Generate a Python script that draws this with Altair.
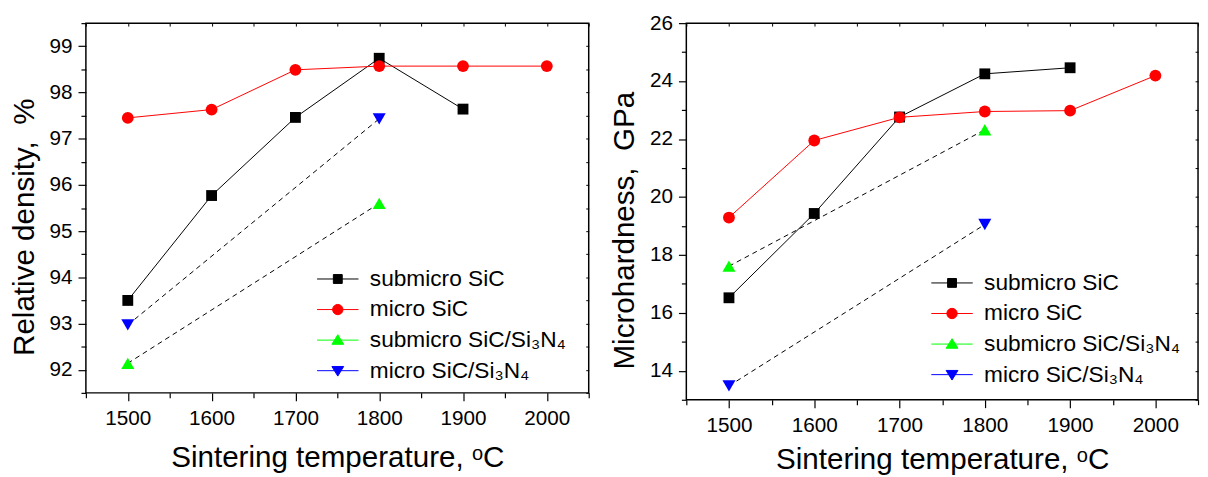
import altair as alt
import pandas as pd

# ---------------- data ----------------
SERIES = ["submicro SiC", "micro SiC", "submicro SiC/Si₃N₄", "micro SiC/Si₃N₄"]

# Left panel: relative density, %
dens_sub_sic_t = [1500, 1600, 1700, 1800, 1900]
dens_sub_sic_v = [93.50, 95.77, 97.46, 98.74, 97.64]
dens_micro_sic_t = [1500, 1600, 1700, 1800, 1900, 2000]
dens_micro_sic_v = [97.45, 97.63, 98.49, 98.57, 98.57, 98.57]
dens_sub_comp_t = [1500, 1800]
dens_sub_comp_v = [92.14, 95.60]
dens_micro_comp_t = [1500, 1800]
dens_micro_comp_v = [92.97, 97.43]

# Right panel: microhardness, GPa
hard_sub_sic_t = [1500, 1600, 1700, 1800, 1900]
hard_sub_sic_v = [16.52, 19.43, 22.76, 24.25, 24.46]
hard_micro_sic_t = [1500, 1600, 1700, 1800, 1900, 2000]
hard_micro_sic_v = [19.29, 21.95, 22.75, 22.95, 22.98, 24.19]
hard_sub_comp_t = [1500, 1800]
hard_sub_comp_v = [17.61, 22.32]
hard_micro_comp_t = [1500, 1800]
hard_micro_comp_v = [13.48, 19.05]

# axis ticks
X_DOMAIN = [1450, 2050]
X_TICKS = [1450, 1500, 1550, 1600, 1650, 1700, 1750, 1800, 1850, 1900, 1950, 2000, 2050]
DENS_DOMAIN = [91.5, 99.5]
DENS_TICKS = [91.5, 92, 92.5, 93, 93.5, 94, 94.5, 95, 95.5, 96, 96.5, 97, 97.5, 98, 98.5, 99, 99.5]
HARD_DOMAIN = [13, 26]
HARD_TICKS = [13, 14, 15, 16, 17, 18, 19, 20, 21, 22, 23, 24, 25, 26]

# ---------------- styles ----------------
MARKER_COLOR = {SERIES[0]: "#000000", SERIES[1]: "#ff0000", SERIES[2]: "#00ff00", SERIES[3]: "#0000ff"}
LINE_COLOR = {SERIES[0]: "#000000", SERIES[1]: "#ff0000", SERIES[2]: "#000000", SERIES[3]: "#000000"}
DASHED = {SERIES[0]: False, SERIES[1]: False, SERIES[2]: True, SERIES[3]: True}
MARKER_SHAPE = {SERIES[0]: "square", SERIES[1]: "circle", SERIES[2]: "triangle-up", SERIES[3]: "triangle-down"}
MARKER_SIZE = {SERIES[0]: 121, SERIES[1]: 144, SERIES[2]: 175, SERIES[3]: 175}
LEGEND_PATHS = [
    "M-4.2,0H4.2M-0.9,-0.9H0.9V0.9H-0.9Z",
    "M-4.2,0H4.2M-1.05,0A1.05,1.05,0,1,0,1.05,0A1.05,1.05,0,1,0,-1.05,0Z",
    "M-4.2,0H4.2M0,-1.1L1.2,0.85H-1.2Z",
    "M-4.2,0H4.2M0,1.1L1.2,-0.85H-1.2Z",
]
FONT = "Liberation Sans"


def build_df(ts_list, vs_list):
    frames = []
    for name, ts, vs in zip(SERIES, ts_list, vs_list):
        frames.append(pd.DataFrame({"series": name, "t": ts, "v": vs}))
    df = pd.concat(frames, ignore_index=True)
    df["lcolor"] = df["series"].map(LINE_COLOR)
    df["mcolor"] = df["series"].map(MARKER_COLOR)
    df["marker"] = df["series"].map(MARKER_SHAPE)
    df["msize"] = df["series"].map(MARKER_SIZE)
    df["dashed"] = df["series"].map(DASHED)
    return df


def panel(df, ydom, yticks, ystep, ytitle, w, h, legx, legy, xtitle_pad):
    xscale = alt.Scale(domain=X_DOMAIN, nice=False, zero=False)
    yscale = alt.Scale(domain=ydom, nice=False, zero=False)
    xmajor = "abs(datum.value / 100 - round(datum.value / 100)) < 0.001"
    ymajor = f"abs(datum.value / {ystep} - round(datum.value / {ystep})) < 0.001"
    x_axis = alt.Axis(
        values=X_TICKS, format="d",
        labelExpr=f"{xmajor} ? format(datum.value, 'd') : ''",
        tickSize={"condition": {"test": xmajor, "value": 8}, "value": 5},
        tickColor="black", tickWidth=1.2, domain=False, grid=False,
        labelFont=FONT, labelFontSize=21, labelColor="black", labelPadding=7,
        labelFlush=False, labelOverlap=False,
        title="Sintering temperature, ᵒC", titleFont=FONT, titleFontSize=30,
        titleFontWeight="normal", titleColor="black", titlePadding=xtitle_pad,
    )
    y_axis = alt.Axis(
        values=yticks,
        labelExpr=f"{ymajor} ? format(datum.value, 'd') : ''",
        tickSize={"condition": {"test": ymajor, "value": 8}, "value": 5},
        tickColor="black", tickWidth=1.2, domain=False, grid=False,
        labelFont=FONT, labelFontSize=21, labelColor="black", labelPadding=6,
        labelFlush=False, labelOverlap=False,
        title=ytitle, titleFont=FONT, titleFontSize=30, titleY=h / 2 + 19,
        titleFontWeight="normal", titleColor="black", titlePadding=10,
    )
    x = alt.X("t:Q", scale=xscale, axis=x_axis)
    y = alt.Y("v:Q", scale=yscale, axis=y_axis)
    base = alt.Chart(df)

    solid = base.transform_filter("!datum.dashed").mark_line(strokeWidth=1).encode(
        x=x, y=y, color=alt.Color("lcolor:N", scale=None), detail="series:N"
    )
    dashed = base.transform_filter("datum.dashed").mark_line(
        strokeWidth=1, strokeDash=[5, 4], color="black"
    ).encode(x=x, y=y, detail="series:N")
    pts = base.mark_point(filled=True, opacity=1).encode(
        x=x, y=y,
        color=alt.Color("mcolor:N", scale=None),
        shape=alt.Shape("marker:N", scale=None),
        size=alt.Size("msize:Q", scale=None),
    )
    leg = alt.Legend(
        title=None, orient="none", legendX=legx, legendY=legy,
        labelFont=FONT, labelFontSize=23, labelColor="black", labelLimit=400,
        symbolSize=100, symbolStrokeWidth=1, labelOffset=21, rowPadding=7,
    )
    col_scale = alt.Scale(domain=SERIES, range=[MARKER_COLOR[s] for s in SERIES])
    legend_layer = base.transform_filter("false").mark_point(filled=True, size=100, opacity=1).encode(
        x=x, y=y,
        fill=alt.Fill("series:N", scale=col_scale, legend=leg),
        stroke=alt.Stroke("series:N", scale=col_scale, legend=leg),
        shape=alt.Shape("series:N", scale=alt.Scale(domain=SERIES, range=LEGEND_PATHS), legend=leg),
    )
    inner = alt.layer(solid, dashed, pts, legend_layer)

    top_axis = alt.Axis(orient="top", values=X_TICKS, labels=False, title=None, domain=False,
                        grid=False, tickSize=3, offset=-3, tickColor="black", tickWidth=1)
    right_axis = alt.Axis(orient="right", values=yticks, labels=False, title=None, domain=False,
                          grid=False, tickSize=3, offset=-3, tickColor="black", tickWidth=1)
    mirror = base.mark_point(opacity=0).encode(
        x=alt.X("t:Q", scale=xscale, axis=top_axis),
        y=alt.Y("v:Q", scale=yscale, axis=right_axis),
    )
    return alt.layer(inner, mirror).resolve_scale(x="independent", y="independent").properties(
        width=w, height=h
    )


dens_df = build_df(
    [dens_sub_sic_t, dens_micro_sic_t, dens_sub_comp_t, dens_micro_comp_t],
    [dens_sub_sic_v, dens_micro_sic_v, dens_sub_comp_v, dens_micro_comp_v],
)
hard_df = build_df(
    [hard_sub_sic_t, hard_micro_sic_t, hard_sub_comp_t, hard_micro_comp_t],
    [hard_sub_sic_v, hard_micro_sic_v, hard_sub_comp_v, hard_micro_comp_v],
)

left = panel(dens_df, DENS_DOMAIN, DENS_TICKS, 1,
             "Relative density,\u00a0\u00a0%", 510, 375, 244, 248, 15)
right = panel(hard_df, HARD_DOMAIN, HARD_TICKS, 2,
              "Microhardness,\u00a0\u00a0GPa", 519, 382, 258, 252, 10)

chart = (
    alt.hconcat(left, right, spacing=18)
    .resolve_scale(fill="independent", stroke="independent", shape="independent")
    .resolve_legend(fill="independent", stroke="independent", shape="independent")
    .properties(padding={"left": 0, "top": 0, "right": 0, "bottom": 0})
    .configure(font=FONT)
    .configure_view(stroke="black", strokeWidth=1.5)
)

chart.save("out.html", embed_options={"renderer": "svg", "actions": False})
